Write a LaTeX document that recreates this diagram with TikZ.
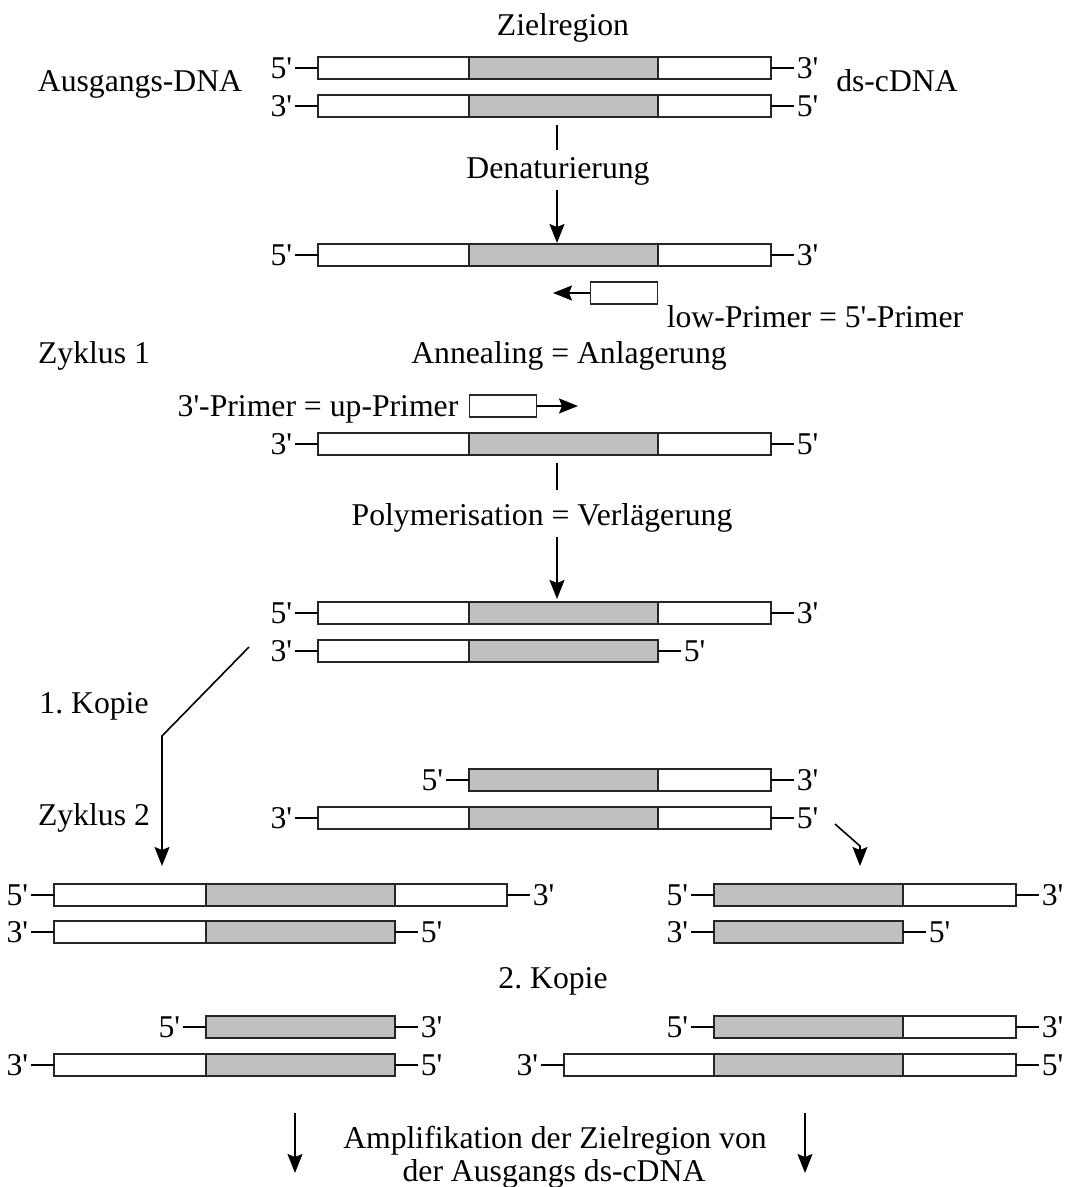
\documentclass[tikz,border=0pt]{standalone}
\usepackage{fontspec}
\setmainfont{Liberation Serif}[Ligatures=TeXOff]
\usetikzlibrary{arrows.meta}
\definecolor{zgray}{RGB}{192,192,192}
\frenchspacing
\tikzset{
  wbox/.style={draw=black!85, fill=white, line width=1.3pt},
  gbox/.style={draw=black!85, fill=zgray, line width=1.3pt},
  tick/.style={draw=black, line width=1.6pt},
  endlbl/.style={inner sep=2pt, font=\fontsize{31.7}{38}\selectfont},
  txt/.style={anchor=base, inner sep=0pt, font=\fontsize{31.7}{38}\selectfont},
  conn/.style={draw=black, line width=1.6pt},
  arr/.style={draw=black, line width=1.6pt, -{Stealth[length=19pt,width=15pt,inset=3pt]}},
}
\newcommand\dnastrand[8]{%
  \draw[wbox] (#3,#2-11) rectangle (#4,#2+11);
  \draw[gbox] (#4,#2-11) rectangle (#5,#2+11);
  \draw[wbox] (#5,#2-11) rectangle (#6,#2+11);
  \draw[tick] (#3,#2) -- ++(-23,0) node[endlbl, anchor=east] (#1L) {#7'};
  \draw[tick] (#6,#2) -- ++(23,0) node[endlbl, anchor=west] (#1R) {#8'};
}
\begin{document}
\begin{tikzpicture}[x=1pt, y=-1pt]
\useasboundingbox[fill=white] (0,0) rectangle (1067,1187);

% titles
\node[txt] (ziel) at (563,35) {Zielregion};
\node[txt] (ausg) at (140,91) {Ausgangs-DNA};
\node[txt] (dsc) at (897,91) {ds-cDNA};

% start strands
\dnastrand{a1}{68}{318}{469}{658}{771}{5}{3}
\dnastrand{a2}{106}{318}{469}{658}{771}{3}{5}

% denaturation
\coordinate (d0) at (557,125);
\coordinate (d1) at (557,150);
\draw[conn] (d0) -- (d1);
\node[txt] (denat) at (558,178) {Denaturierung};
\coordinate (d2) at (557,190);
\coordinate (d3) at (557,243);
\draw[arr] (d2) -- (d3);

\dnastrand{b1}{255}{318}{469}{658}{771}{5}{3}

% low primer
\node[wbox, minimum width=67pt, minimum height=22pt, inner sep=0pt, anchor=west] (lowp) at (590,293) {};
\coordinate (lowtip) at (553,293);
\draw[arr] (lowp.west) -- (lowtip);
\node[txt] (lowtxt) at (815,327) {low-Primer = 5'-Primer};

\node[txt] (zyk1) at (94,363) {Zyklus 1};
\node[txt] (anneal) at (569,363) {Annealing = Anlagerung};

% up primer
\node[txt] (uptxt) at (318,416) {3'-Primer = up-Primer};
\node[wbox, minimum width=67pt, minimum height=22pt, inner sep=0pt, anchor=west] (upp) at (469,406) {};
\coordinate (uptip) at (578,406);
\draw[arr] (upp.east) -- (uptip);

\dnastrand{c1}{444}{318}{469}{658}{771}{3}{5}

% polymerisation
\coordinate (p0) at (557,463);
\coordinate (p1) at (557,490);
\draw[conn] (p0) -- (p1);
\node[txt] (poly) at (542,525) {Polymerisation = Verlägerung};
\coordinate (p2) at (557,537);
\coordinate (p3) at (557,599);
\draw[arr] (p2) -- (p3);

\dnastrand{e1}{613}{318}{469}{658}{771}{5}{3}
\dnastrand{e2}{651}{318}{469}{658}{658}{3}{5}

\node[txt] (kop1) at (94,713) {1. Kopie};

\dnastrand{f1}{780}{469}{469}{658}{771}{5}{3}
\dnastrand{f2}{818}{318}{469}{658}{771}{3}{5}

\node[txt] (zyk2) at (94,825) {Zyklus 2};

% cycle 2 connectors
\coordinate (k0) at (249,647);
\coordinate (k1) at (162,736);
\coordinate (k2) at (162,866);
\draw[arr] (k0) -- (k1) -- (k2);
\coordinate (m0) at (835,824);
\coordinate (m1) at (860,846);
\coordinate (m2) at (860,866);
\draw[arr] (m0) -- (m1) -- (m2);

\dnastrand{g1}{895}{54}{206}{395}{507}{5}{3}
\dnastrand{g2}{932}{54}{206}{395}{395}{3}{5}
\dnastrand{h1}{895}{714}{714}{903}{1016}{5}{3}
\dnastrand{h2}{932}{714}{714}{903}{903}{3}{5}

\node[txt] (kop2) at (553,988) {2. Kopie};

\dnastrand{i1}{1027}{206}{206}{395}{395}{5}{3}
\dnastrand{i2}{1065}{54}{206}{395}{395}{3}{5}
\dnastrand{j1}{1027}{714}{714}{903}{1016}{5}{3}
\dnastrand{j2}{1065}{564}{714}{903}{1016}{3}{5}

% amplification
\coordinate (q0) at (295,1113);
\coordinate (q1) at (295,1173);
\draw[arr] (q0) -- (q1);
\coordinate (r0) at (805,1113);
\coordinate (r1) at (805,1173);
\draw[arr] (r0) -- (r1);
\node[txt] (amp1) at (555,1148) {Amplifikation der Zielregion von};
\node[txt] (amp2) at (554,1181) {der Ausgangs ds-cDNA};
\end{tikzpicture}
\end{document}
